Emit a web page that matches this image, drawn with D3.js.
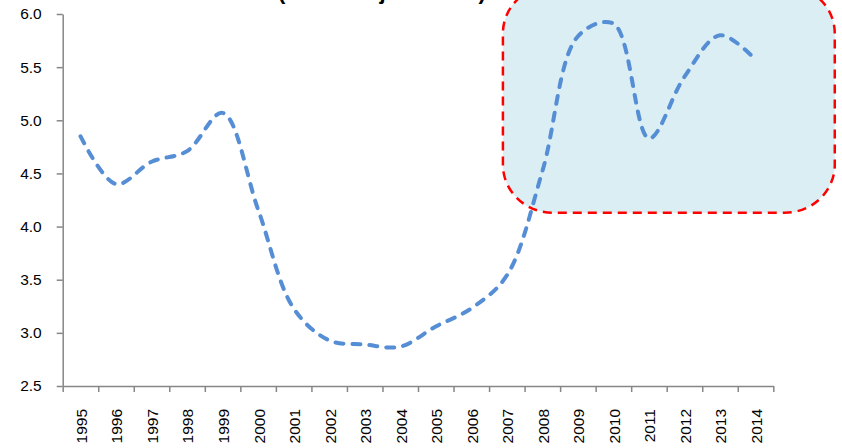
<!DOCTYPE html>
<html>
<head>
<meta charset="utf-8">
<script src="https://cdn.jsdelivr.net/npm/d3@7"></script>
<style>
  body { margin: 0; background: #fff; }
  text { font-family: "Liberation Sans", Arial, sans-serif; fill: #000; }
</style>
</head>
<body>
<script>
var years = ["1995", "1996", "1997", "1998", "1999", "2000", "2001", "2002", "2003", "2004",
             "2005", "2006", "2007", "2008", "2009", "2010", "2011", "2012", "2013", "2014"];
var values = [4.85, 4.40, 4.61, 4.71, 5.07, 4.16, 3.23, 2.93, 2.89, 2.87,
              3.06, 3.23, 3.54, 4.52, 5.79, 5.91, 4.83, 5.41, 5.80, 5.57];
var yTicks = [2.5, 3.0, 3.5, 4.0, 4.5, 5.0, 5.5, 6.0];
var title = "(Porcentaje del PIB)";
// highlighted zone, in category index / value units
var zoneX = [12.39, 21.73];
var zoneY = [4.13, 6.27];

var width = 842;
var height = 448;
var plotLeft = 62.7, plotRight = 773.3, plotTop = 14, plotBottom = 386;

var svg = d3.select("body").append("svg").attr("width", width).attr("height", height);

var xScale = d3.scaleBand().domain(years).range([plotLeft, plotRight]);
var xIdx = d3.scaleLinear().domain([0, years.length]).range([plotLeft, plotRight]);
var yScale = d3.scaleLinear().domain([2.5, 6.0]).range([plotBottom, plotTop]);

// title (cut off at the top in the original, only the descenders show)
svg.append("text")
    .attr("x", 382)
    .attr("y", -1.5)
    .attr("text-anchor", "middle")
    .style("font-size", "22px")
    .style("font-weight", "bold")
    .text(title);

// highlight box
svg.append("rect")
    .attr("x", xIdx(zoneX[0]))
    .attr("y", yScale(zoneY[1]))
    .attr("width", xIdx(zoneX[1]) - xIdx(zoneX[0]))
    .attr("height", yScale(zoneY[0]) - yScale(zoneY[1]))
    .attr("rx", 50).attr("ry", 48)
    .attr("fill", "#DAEEF3")
    .attr("stroke", "#FF0000")
    .attr("stroke-width", 2.5)
    .attr("stroke-dasharray", "9,6");

// y axis
var yAxis = svg.append("g")
    .attr("transform", "translate(" + plotLeft + ",0)")
    .call(d3.axisLeft(yScale).tickValues(yTicks).tickFormat(d3.format(".1f")).tickSize(6).tickPadding(15).tickSizeOuter(0));
yAxis.selectAll("text").style("font-size", "15.5px").attr("fill", "#000");

// x axis: tick marks at category boundaries
var xAxis = svg.append("g")
    .attr("transform", "translate(0," + plotBottom + ")")
    .call(d3.axisBottom(xIdx).tickValues(d3.range(years.length + 1)).tickFormat("").tickSize(6).tickSizeOuter(0));

// x labels
var xLabels = svg.append("g")
    .attr("transform", "translate(0," + plotBottom + ")")
    .call(d3.axisBottom(xScale).tickSize(0).tickSizeOuter(0));
xLabels.select(".domain").remove();
xLabels.selectAll("text")
    .style("font-size", "15.5px")
    .attr("fill", "#000")
    .attr("text-anchor", "end")
    .attr("transform", "rotate(-90)")
    .attr("x", -23)
    .attr("y", 1)
    .attr("dy", "0.35em");

svg.selectAll(".domain, .tick line").attr("stroke", "#868686").attr("stroke-width", 1.5);

// line
var line = d3.line()
    .x(function(d, i) { return xScale(years[i]) + xScale.bandwidth() / 2; })
    .y(function(d) { return yScale(d); })
    .curve(d3.curveCatmullRom.alpha(0.5));

svg.append("path")
    .datum(values)
    .attr("d", line)
    .attr("fill", "none")
    .attr("stroke", "#558ED5")
    .attr("stroke-width", 4)
    .attr("stroke-linecap", "round")
    .attr("stroke-dasharray", "8,9");
</script>
</body>
</html>
